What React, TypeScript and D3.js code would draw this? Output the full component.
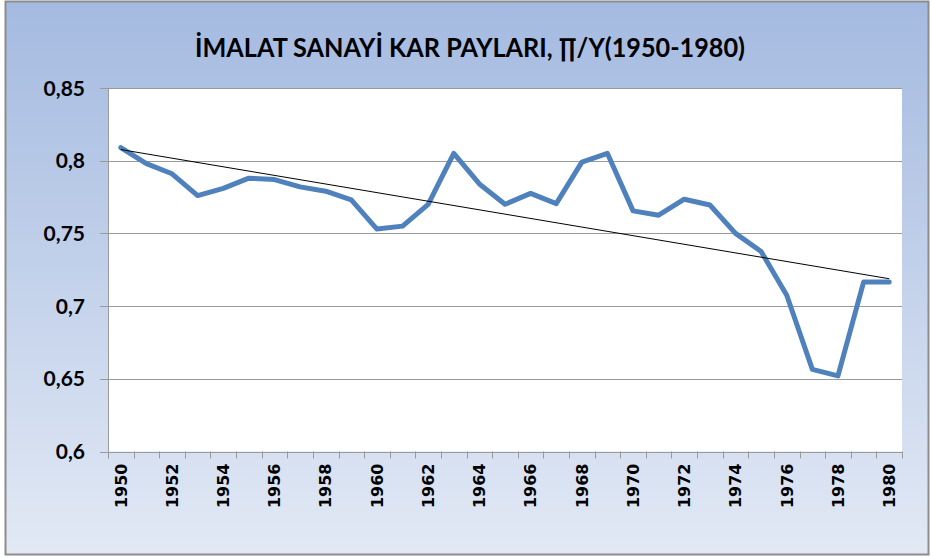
import React from "react";
import * as d3 from "d3";

const title = "İMALAT SANAYİ KAR PAYLARI, ∏/Y(1950-1980)";
const years = [
  1950, 1951, 1952, 1953, 1954, 1955, 1956, 1957, 1958, 1959, 1960, 1961, 1962, 1963, 1964, 1965,
  1966, 1967, 1968, 1969, 1970, 1971, 1972, 1973, 1974, 1975, 1976, 1977, 1978, 1979, 1980,
];
const values = [
  0.809, 0.798, 0.791, 0.776, 0.781, 0.788, 0.787, 0.782, 0.779, 0.773, 0.753, 0.755, 0.770, 0.805,
  0.784, 0.770, 0.7775, 0.7705, 0.799, 0.805, 0.7655, 0.7625, 0.7735, 0.7695, 0.750, 0.7375, 0.7075,
  0.6565, 0.652, 0.7165, 0.7165,
];
const yTicks = [0.6, 0.65, 0.7, 0.75, 0.8, 0.85];
const yTickLabels = ["0,6", "0,65", "0,7", "0,75", "0,8", "0,85"];
const xLabelYears = years.filter((y) => (y - 1950) % 2 === 0);

const W = 931;
const H = 558;
const plot = { left: 108, right: 902, top: 88, bottom: 451.5 };

export default function App() {
  const x = d3
    .scaleBand<number>()
    .domain(years)
    .range([plot.left, plot.right])
    .paddingInner(0)
    .paddingOuter(0);
  const y = d3.scaleLinear().domain([0.6, 0.85]).range([plot.bottom, plot.top]);
  const cx = (yr: number) => (x(yr) as number) + x.bandwidth() / 2;

  const line = d3
    .line<number>()
    .x((_, i) => cx(years[i]))
    .y((v) => y(v));

  // linear trend (least squares)
  const n = values.length;
  const idx = values.map((_, i) => i);
  const mx = d3.mean(idx) as number;
  const my = d3.mean(values) as number;
  const slope =
    d3.sum(idx.map((i) => (i - mx) * (values[i] - my))) / d3.sum(idx.map((i) => (i - mx) ** 2));
  const icpt = my - slope * mx;
  const t0 = icpt;
  const t1 = icpt + slope * (n - 1);

  const boundaries = [...years.map((yr) => x(yr) as number), plot.right];

  return (
    <svg
      width={W}
      height={H}
      style={{ position: "absolute", left: 0, top: 0 }}
      xmlns="http://www.w3.org/2000/svg"
    >
      <defs>
        <linearGradient id="bg" x1="0" y1="0" x2="0" y2="1">
          <stop offset="0" stopColor="#a4bae0" />
          <stop offset="1" stopColor="#e2e9f5" />
        </linearGradient>
      </defs>
      <rect x={5.5} y={1.5} width={923} height={553} fill="url(#bg)" stroke="#8c8c8c" strokeWidth={2} />
      <rect
        x={plot.left}
        y={plot.top}
        width={plot.right - plot.left}
        height={plot.bottom - plot.top}
        fill="#ffffff"
      />
      <text
        x={470}
        y={57}
        textAnchor="middle"
        fontFamily="Lato, 'Open Sans', sans-serif"
        fontWeight="bold"
        fontSize={26}
        textLength={550}
        lengthAdjust="spacingAndGlyphs"
        fill="#000"
      >
        {title}
      </text>
      {/* gridlines */}
      {yTicks.map((t) => (
        <line
          key={"g" + t}
          x1={plot.left - 8}
          x2={plot.right}
          y1={Math.round(y(t)) + 0.5}
          y2={Math.round(y(t)) + 0.5}
          stroke="#9a9a9a"
          strokeWidth={1}
        />
      ))}
      {/* y axis line */}
      <line
        x1={plot.left + 0.5}
        x2={plot.left + 0.5}
        y1={plot.top}
        y2={plot.bottom + 7}
        stroke="#9a9a9a"
        strokeWidth={1}
      />
      {/* x ticks */}
      {boundaries.map((b, i) => (
        <line
          key={"xt" + i}
          x1={Math.round(b) + 0.5}
          x2={Math.round(b) + 0.5}
          y1={plot.bottom}
          y2={plot.bottom + 7}
          stroke="#9a9a9a"
          strokeWidth={1}
        />
      ))}
      {/* y labels */}
      {yTicks.map((t, i) => (
        <text
          key={"yl" + t}
          x={85}
          y={y(t)}
          dy="0.36em"
          textAnchor="end"
          fontFamily="Lato, sans-serif"
          fontWeight="bold"
          fontSize={21}
          fill="#000"
        >
          {yTickLabels[i]}
        </text>
      ))}
      {/* x labels */}
      {xLabelYears.map((yr) => (
        <text
          key={"xl" + yr}
          transform={`translate(${cx(yr)},${plot.bottom + 12}) rotate(-90)`}
          textAnchor="end"
          dy="0.36em"
          fontFamily="'DejaVu Sans', Verdana, sans-serif"
          fontWeight="bold"
          fontSize={16}
          fill="#000"
        >
          {yr}
        </text>
      ))}
      {/* data line */}
      <path
        d={line(values) as string}
        fill="none"
        stroke="#4f81bd"
        strokeWidth={5}
        strokeLinejoin="round"
        strokeLinecap="round"
      />
      {/* trend line */}
      <line
        x1={cx(years[0])}
        y1={y(t0)}
        x2={cx(years[n - 1])}
        y2={y(t1)}
        stroke="#000"
        strokeWidth={1}
      />
    </svg>
  );
}
